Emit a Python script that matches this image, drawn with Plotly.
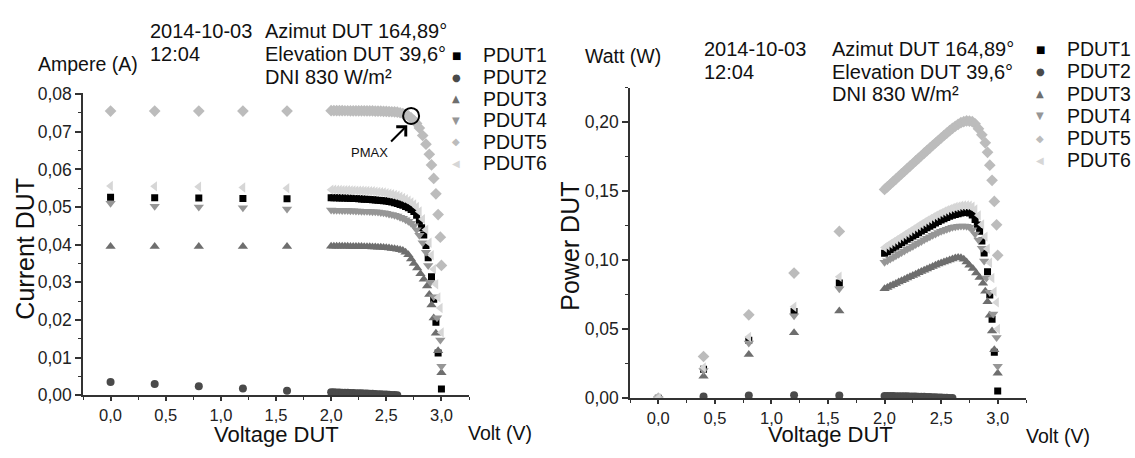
import plotly.graph_objects as go

# ---------------- data ----------------
SERIES = ["PDUT1", "PDUT2", "PDUT3", "PDUT4", "PDUT5", "PDUT6"]

V_LOW = [0.0, 0.4, 0.8, 1.2, 1.6]
V_SWEEP = [2.000, 2.025, 2.050, 2.075, 2.100, 2.125, 2.150, 2.175, 2.200, 2.225,
           2.250, 2.275, 2.300, 2.325, 2.350, 2.375, 2.400, 2.425, 2.450, 2.475,
           2.500, 2.525, 2.550, 2.575, 2.600, 2.625, 2.650, 2.675, 2.700, 2.725, 2.750]

PDUT1_I_LOW = [0.0526, 0.0525, 0.0524, 0.0523, 0.0522]
PDUT1_I_SWEEP = [0.05250, 0.05248, 0.05245, 0.05243, 0.05240, 0.05238, 0.05235, 0.05233, 0.05230, 0.05225,
                 0.05220, 0.05215, 0.05210, 0.05205, 0.05200, 0.05195, 0.05190, 0.05183, 0.05177, 0.05170,
                 0.05160, 0.05148, 0.05135, 0.05115, 0.05095, 0.05070, 0.05045, 0.05015, 0.04980, 0.04935, 0.04880]
PDUT1_V_TAIL = [2.775, 2.80, 2.82, 2.84, 2.86, 2.88, 2.91, 2.93, 2.95, 2.97, 3.00]
PDUT1_I_TAIL = [0.0478, 0.0462, 0.0445, 0.0426, 0.0398, 0.0365, 0.0315, 0.0255, 0.0194, 0.0112, 0.0017]

PDUT2_I_LOW = [0.0035, 0.0030, 0.0024, 0.0018, 0.0012]
PDUT2_I_SWEEP = [0.00080, 0.00078, 0.00076, 0.00073, 0.00070, 0.00068, 0.00065, 0.00063, 0.00060, 0.00057,
                 0.00054, 0.00051, 0.00048, 0.00045, 0.00042, 0.00038, 0.00034, 0.00030, 0.00026, 0.00022,
                 0.00018, 0.00014, 0.00010, 0.00007, 0.00004]
PDUT2_V_TAIL = []
PDUT2_I_TAIL = []

PDUT3_I_LOW = [0.0395, 0.0395, 0.0395, 0.0395, 0.0395]
PDUT3_I_SWEEP = [0.03960, 0.03960, 0.03960, 0.03959, 0.03958, 0.03957, 0.03956, 0.03955, 0.03954, 0.03953,
                 0.03952, 0.03950, 0.03948, 0.03946, 0.03944, 0.03941, 0.03938, 0.03934, 0.03930, 0.03925,
                 0.03918, 0.03910, 0.03900, 0.03890, 0.03878, 0.03868, 0.03845, 0.03800, 0.03730, 0.03620, 0.03500]
PDUT3_V_TAIL = [2.78, 2.81, 2.84, 2.87, 2.89, 2.91, 2.93, 2.95, 2.97, 3.00]
PDUT3_I_TAIL = [0.0338, 0.0323, 0.0308, 0.0290, 0.0268, 0.0240, 0.0205, 0.0165, 0.0118, 0.0060]

PDUT4_I_LOW = [0.0510, 0.0502, 0.0500, 0.0498, 0.0495]
PDUT4_I_SWEEP = [0.04920, 0.04918, 0.04915, 0.04913, 0.04910, 0.04908, 0.04905, 0.04903, 0.04900, 0.04897,
                 0.04894, 0.04891, 0.04888, 0.04885, 0.04882, 0.04878, 0.04873, 0.04866, 0.04858, 0.04848,
                 0.04835, 0.04815, 0.04800, 0.04780, 0.04760, 0.04730, 0.04700, 0.04660, 0.04620, 0.04570, 0.04500]
PDUT4_V_TAIL = [2.775, 2.80, 2.83, 2.86, 2.88, 2.90, 2.93, 2.96, 2.99, 3.00]
PDUT4_I_TAIL = [0.0440, 0.0425, 0.0405, 0.0380, 0.0345, 0.0300, 0.0262, 0.0206, 0.0147, 0.0077]

PDUT5_I_LOW = [0.0755, 0.0755, 0.0755, 0.0755, 0.0755]
PDUT5_I_SWEEP = [0.07560, 0.07560, 0.07560, 0.07559, 0.07559, 0.07558, 0.07558, 0.07557, 0.07557, 0.07556,
                 0.07556, 0.07555, 0.07555, 0.07554, 0.07553, 0.07552, 0.07550, 0.07548, 0.07546, 0.07543,
                 0.07540, 0.07536, 0.07531, 0.07526, 0.07520, 0.07505, 0.07485, 0.07460, 0.07420, 0.07370, 0.07300]
PDUT5_V_TAIL = [2.775, 2.80, 2.83, 2.86, 2.89, 2.91, 2.93, 2.95, 2.97, 2.99, 3.00]
PDUT5_I_TAIL = [0.0722, 0.0710, 0.0690, 0.0667, 0.0640, 0.0612, 0.0576, 0.0535, 0.0480, 0.0420, 0.0345]

PDUT6_I_LOW = [0.0556, 0.0555, 0.0554, 0.0552, 0.0550]
PDUT6_I_SWEEP = [0.05460, 0.05458, 0.05455, 0.05453, 0.05450, 0.05448, 0.05445, 0.05443, 0.05440, 0.05437,
                 0.05434, 0.05432, 0.05430, 0.05426, 0.05422, 0.05418, 0.05410, 0.05402, 0.05395, 0.05385,
                 0.05370, 0.05355, 0.05340, 0.05320, 0.05300, 0.05275, 0.05240, 0.05210, 0.05170, 0.05125, 0.05070]
PDUT6_V_TAIL = [2.775, 2.80, 2.83, 2.86, 2.89, 2.91, 2.93, 2.95, 2.97, 2.99, 3.00]
PDUT6_I_TAIL = [0.0500, 0.0488, 0.0468, 0.0440, 0.0405, 0.0372, 0.0335, 0.0295, 0.0260, 0.0232, 0.0167]

PMAX_V = [2.725]
PMAX_I = [0.0742]

INFO_DATE = ["2014-10-03", "12:04"]
INFO_SUN = ["Azimut DUT 164,89°", "Elevation DUT 39,6°", "DNI 830 W/m²"]

# ---------------- styles ----------------
FONT = "Arial, Liberation Sans, sans-serif"
STYLE = {
    "PDUT1": dict(symbol="square", size=7, color="#000000", glyph="■"),
    "PDUT2": dict(symbol="circle", size=8, color="#4a4a4a", glyph="●"),
    "PDUT3": dict(symbol="triangle-up", size=9, color="#6e6e6e", glyph="▲"),
    "PDUT4": dict(symbol="triangle-down", size=9, color="#969696", glyph="▼"),
    "PDUT5": dict(symbol="diamond", size=9, color="#bcbcbc", glyph="◆"),
    "PDUT6": dict(symbol="triangle-left", size=9, color="#d6d6d6", glyph="◀"),
}
DATA = {
    "PDUT1": (PDUT1_I_LOW, PDUT1_I_SWEEP, PDUT1_V_TAIL, PDUT1_I_TAIL),
    "PDUT2": (PDUT2_I_LOW, PDUT2_I_SWEEP, PDUT2_V_TAIL, PDUT2_I_TAIL),
    "PDUT3": (PDUT3_I_LOW, PDUT3_I_SWEEP, PDUT3_V_TAIL, PDUT3_I_TAIL),
    "PDUT4": (PDUT4_I_LOW, PDUT4_I_SWEEP, PDUT4_V_TAIL, PDUT4_I_TAIL),
    "PDUT5": (PDUT5_I_LOW, PDUT5_I_SWEEP, PDUT5_V_TAIL, PDUT5_I_TAIL),
    "PDUT6": (PDUT6_I_LOW, PDUT6_I_SWEEP, PDUT6_V_TAIL, PDUT6_I_TAIL),
}

fig = go.Figure()
for name in SERIES:
    i_low, i_sweep, v_tail, i_tail = DATA[name]
    v = V_LOW + V_SWEEP[:len(i_sweep)] + v_tail
    cur = i_low + i_sweep + i_tail
    pwr = [a * b for a, b in zip(v, cur)]  # power = voltage x current
    st = STYLE[name]
    mk = dict(symbol=st["symbol"], size=st["size"], color=st["color"], line=dict(width=0))
    fig.add_trace(go.Scatter(x=v, y=cur, mode="markers", name=name, marker=mk,
                             xaxis="x", yaxis="y", showlegend=False))
    fig.add_trace(go.Scatter(x=v, y=pwr, mode="markers", name=name, marker=mk,
                             xaxis="x2", yaxis="y2", showlegend=False))

fig.add_trace(go.Scatter(x=PMAX_V, y=PMAX_I, mode="markers", showlegend=False, name="PMAX",
                         marker=dict(symbol="circle-open", size=16, color="#000",
                                     line=dict(width=2, color="#000")),
                         xaxis="x", yaxis="y", cliponaxis=False))

W, H = 1135, 458
def px(x):
    return x / W
def py(y):
    return 1 - y / H

axis_common = dict(showline=True, linecolor="#333", linewidth=1.5, ticks="outside",
                   ticklen=6, tickwidth=1.5, tickcolor="#333", showgrid=False, zeroline=False,
                   tickfont=dict(size=17.5, family=FONT, color="#222"))
xaxis_common = dict(axis_common, range=[-0.25, 3.25], tick0=0, dtick=0.5, tickformat=".1f",
                    ticklen=4, ticklabelstandoff=0, tickfont=dict(size=16.5, family=FONT, color="#222"),
                    minor=dict(ticks="outside", ticklen=3, tickwidth=1.2, tickcolor="#333", dtick=0.25, tick0=0))

fig.update_layout(
    width=W, height=H, margin=dict(l=0, r=0, t=0, b=0),
    paper_bgcolor="white", plot_bgcolor="white",
    separators=",.",
    font=dict(family=FONT, color="#1a1a1a"),
    showlegend=False,
    xaxis=dict(xaxis_common, domain=[px(83), px(469)], anchor="y"),
    yaxis=dict(axis_common, domain=[py(403), py(88)], anchor="x", range=[0, 0.0802],
               dtick=0.01, tickformat=".2f",
               minor=dict(ticks="outside", ticklen=3, tickwidth=1.2, tickcolor="#333", dtick=0.005, tick0=0)),
    xaxis2=dict(xaxis_common, domain=[px(630), px(1026)], anchor="y2"),
    yaxis2=dict(axis_common, domain=[py(406), py(82)], anchor="x2", range=[0, 0.225],
                dtick=0.05, tickformat=".2f",
                minor=dict(ticks="outside", ticklen=3, tickwidth=1.2, tickcolor="#333", dtick=0.025, tick0=0)),
)

ann = []
def text(x, y, s, size, xanchor="left", yanchor="middle", angle=0, color="#111", family=FONT):
    ann.append(dict(x=px(x), y=py(y), xref="paper", yref="paper", text=s, showarrow=False,
                    xanchor=xanchor, yanchor=yanchor, textangle=angle, align="left",
                    borderpad=0, font=dict(size=size, family=family, color=color)))

def legend_block(sym_x, text_x, rows):
    for name, y in zip(SERIES, rows):
        text(sym_x, y, STYLE[name]["glyph"], 10, xanchor="center",
             color=STYLE[name]["color"], family="DejaVu Sans")
        text(text_x, y, name, 19.5)

# left chart texts
text(25, 250, "Current DUT", 25, xanchor="center", angle=-90)
text(276, 458, "Voltage DUT", 22, xanchor="center", yanchor="bottom")
text(467, 442, "Volt (V)", 19.5)
text(37, 57, "Ampere (A)", 19.5)
for s, y in zip(INFO_DATE, [22.5, 47]):
    text(149, y, s, 20)
for s, y in zip(INFO_SUN, [22.5, 47, 70.5]):
    text(264, y, s, 20)
legend_block(456, 482, [48.5, 71, 93.5, 116, 138.5, 161])

# right chart texts
text(570, 248, "Power DUT", 25, xanchor="center", angle=-90)
text(830, 458, "Voltage DUT", 22, xanchor="center", yanchor="bottom")
text(1025, 445, "Volt (V)", 19.5)
text(584, 49, "Watt (W)", 19.5)
for s, y in zip(INFO_DATE, [42, 65.5]):
    text(703, y, s, 20)
for s, y in zip(INFO_SUN, [42, 65.5, 89]):
    text(831, y, s, 20)
legend_block(1040, 1066, [42, 65.2, 88.4, 111.6, 134.8, 158])

# PMAX label and arrow
ann.append(dict(x=2.35, y=0.0645, xref="x", yref="y", text="PMAX", showarrow=False,
                font=dict(size=13, family=FONT, color="#111")))
ann.append(dict(x=2.69, y=0.0717, xref="x", yref="y", ax=2.53, ay=0.0670, axref="x", ayref="y",
                text="", showarrow=True, arrowhead=4, arrowsize=1.3, arrowwidth=2, arrowcolor="#000"))

fig.update_layout(annotations=ann)
fig.write_html("out.html")
